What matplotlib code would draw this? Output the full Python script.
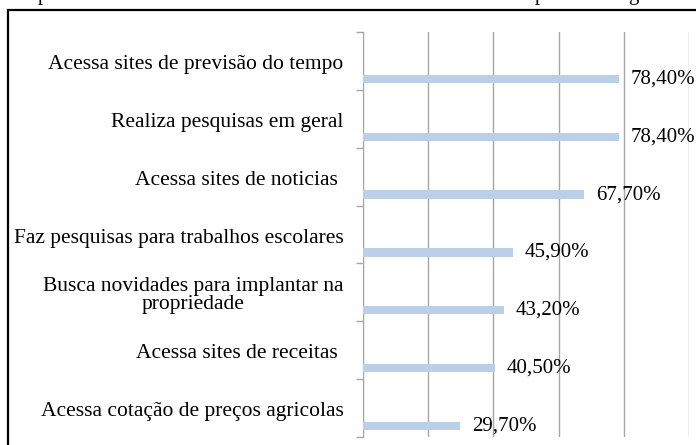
import matplotlib.pyplot as plt
from matplotlib.patches import Rectangle

plt.rcParams['font.family'] = ['Liberation Serif', 'DejaVu Serif']

# Dados do gráfico (de cima para baixo)
categorias = [
    'Acessa sites de previsão do tempo',
    'Realiza pesquisas em geral',
    'Acessa sites de noticias ',
    'Faz pesquisas para trabalhos escolares',
    'Busca novidades para implantar na\npropriedade',
    'Acessa sites de receitas ',
    'Acessa cotação de preços agricolas',
]
valores = [78.4, 78.4, 67.7, 45.9, 43.2, 40.5, 29.7]
rotulos = ['78,40%', '78,40%', '67,70%', '45,90%', '43,20%', '40,50%', '29,70%']

W, H = 696, 445
fig = plt.figure(figsize=(W / 100, H / 100), dpi=100)

# moldura preta (recortada à direita e embaixo)
fig.patches.append(Rectangle((8 / W, -0.05), 1.1, 1 - 10 / H + 0.05, transform=fig.transFigure,
                             fill=False, edgecolor='black', linewidth=1.6))

# restos do título cortado no topo
for x, s in [(43, 'p'), (540, 'p'), (633, 'g')]:
    fig.text(x / W, 1.0, s, ha='center', va='baseline', fontsize=15)

ax = fig.add_axes([363 / W, 1 - 437 / H, 326 / W, 405 / H])
n = len(valores)
pos = [i + 0.81 for i in range(n)]
ax.barh(pos, valores, height=0.145, color='#bacfe8', zorder=3)

ax.set_xlim(0, 100)
ax.set_ylim(n, 0)
ax.set_xticks(range(0, 101, 20))
ax.tick_params(axis='x', length=0, labelbottom=False)
ax.grid(axis='x', color='#a6a6a6', linewidth=1.0)

ax.set_yticks(range(n + 1))
ax.set_yticklabels([])
ax.set_yticks([i + 0.52 for i in range(n)], minor=True)
ax.set_yticklabels(categorias, minor=True, fontsize=15.5, multialignment='center',
                   linespacing=0.95)
ax.tick_params(axis='y', which='major', length=5, color='#a6a6a6', width=1.0)
ax.tick_params(axis='y', which='minor', length=0, pad=14)

for s in ['top', 'right', 'bottom']:
    ax.spines[s].set_visible(False)
ax.spines['left'].set_color('#a6a6a6')

for v, p, r in zip(valores, pos, rotulos):
    ax.annotate(r, (v, p), xytext=(8.6, 0), textcoords='offset points',
                va='center', ha='left', fontsize=15, annotation_clip=False)

fig.savefig('out.png', dpi=100)
